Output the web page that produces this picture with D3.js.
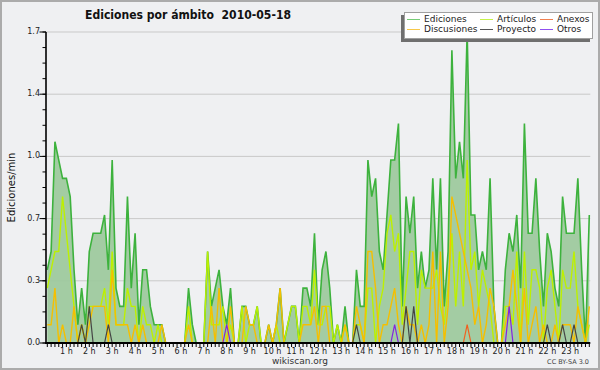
<!DOCTYPE html>
<html>
<head>
<meta charset="utf-8">
<script src="https://cdn.jsdelivr.net/npm/d3@7"></script>
<style>
  body { margin: 0; background: #fff; }
  text { font-family: "DejaVu Sans", sans-serif; }
</style>
</head>
<body>
<div id="chart"></div>
<script>
// edits per minute, one value per 10 minutes (00:10 .. 23:50)
let ediciones = [
  0.4, 0.5, 1.1, 1.0, 0.9, 0.9,
  0.8, 0.4, 0.1, 0.3, 0.1, 0.5,
  0.6, 0.6, 0.6, 0.7, 0.4, 1.0,
  0.3, 0.2, 0.2, 0.8, 0.3, 0.6,
  0.1, 0.4, 0.4, 0.2, 0.1, 0.1,
  0.1, 0, 0, 0, 0, 0,
  0, 0.3, 0.1, 0, 0, 0,
  0.5, 0.2, 0.3, 0.4, 0.2, 0.1,
  0.3, 0, 0, 0.2, 0.2, 0.1,
  0.1, 0.2, 0, 0, 0.1, 0,
  0.1, 0.3, 0, 0.1, 0.2, 0.2,
  0, 0.3, 0.3, 0.2, 0.6, 0.1,
  0.4, 0.5, 0.3, 0, 0.1, 0,
  0.2, 0, 0, 0.4, 0.2, 0.2,
  1.0, 0.8, 0.9, 0.5, 0.4, 0.7,
  1.0, 1.0, 1.2, 0.2, 0.8, 0.6,
  0.8, 0.3, 0.5, 0.3, 0.4, 0.9,
  0.4, 0.9, 0.2, 0.5, 1.6, 0.9,
  1.1, 0.9, 1.7, 0.7, 0.7, 0.4,
  0.5, 0.4, 0.9, 0.2, 0, 0,
  0.4, 0.6, 0.5, 0.7, 0.3, 1.2,
  0.6, 0.6, 0.9, 0.5, 0.2, 0.6,
  0.5, 0.3, 0.2, 0.8, 0.6, 0.6,
  0.6, 0.9, 0.4, 0, 0.7
];

let articulos = [
  0.3, 0.4, 0.5, 0.5, 0.8, 0.6,
  0.4, 0.2, 0, 0.1, 0, 0.2,
  0.2, 0.2, 0.2, 0.3, 0.1, 0.5,
  0.1, 0.1, 0.1, 0.3, 0.2, 0.2,
  0, 0.2, 0.1, 0.1, 0, 0.1,
  0, 0, 0, 0, 0, 0,
  0, 0.2, 0, 0, 0, 0,
  0.5, 0.1, 0.1, 0.1, 0.2, 0,
  0.1, 0, 0, 0.2, 0, 0.1,
  0.1, 0.2, 0, 0, 0, 0,
  0.1, 0, 0, 0.1, 0.2, 0.2,
  0, 0.2, 0.2, 0.1, 0.4, 0.1,
  0.1, 0.2, 0.2, 0, 0.1, 0,
  0.1, 0, 0, 0.1, 0.1, 0,
  0.3, 0.3, 0, 0.2, 0.3, 0.6,
  0.7, 0.5, 0.6, 0.1, 0.3, 0.5,
  0.5, 0.1, 0.4, 0.3, 0.3, 0.3,
  0.4, 0.2, 0.1, 0.3, 0.6, 0.2,
  0.5, 0.2, 1.0, 0.4, 0.5, 0.2,
  0.4, 0.3, 0.2, 0, 0, 0,
  0.2, 0.2, 0.1, 0.5, 0, 0.5,
  0.1, 0.4, 0.4, 0.3, 0, 0.3,
  0.4, 0.2, 0, 0.4, 0.3, 0.3,
  0.5, 0.2, 0.1, 0, 0.1
];

let discusiones = [
  0.1, 0.1, 0.3, 0, 0.1, 0,
  0, 0.2, 0, 0.1, 0, 0.1,
  0.2, 0.2, 0.2, 0.2, 0, 0.4,
  0.1, 0.1, 0.1, 0.1, 0, 0.1,
  0, 0.1, 0, 0, 0, 0,
  0.1, 0, 0, 0, 0, 0,
  0, 0.1, 0, 0, 0, 0,
  0, 0.2, 0, 0.3, 0, 0,
  0.2, 0, 0, 0, 0.2, 0.1,
  0.1, 0, 0, 0, 0.1, 0,
  0.1, 0.3, 0, 0, 0, 0,
  0, 0.1, 0.1, 0.1, 0.2, 0,
  0.2, 0.2, 0, 0, 0, 0,
  0.1, 0, 0, 0.2, 0.1, 0,
  0.5, 0.5, 0.3, 0, 0.1, 0.1,
  0.2, 0.3, 0.1, 0, 0.2, 0.1,
  0.1, 0, 0.1, 0, 0.1, 0.5,
  0, 0.5, 0, 0.2, 0.8, 0.7,
  0.6, 0.5, 0.4, 0.3, 0.1, 0.2,
  0, 0.1, 0.3, 0.2, 0, 0,
  0.1, 0.2, 0.4, 0.2, 0, 0.3,
  0, 0.1, 0.2, 0, 0.1, 0,
  0, 0.1, 0, 0.1, 0.1, 0.1,
  0, 0.2, 0.1, 0, 0.2
];

let proyecto = [
  0, 0, 0, 0, 0, 0,
  0, 0, 0, 0.1, 0, 0.2,
  0, 0, 0, 0, 0.1, 0,
  0, 0, 0, 0, 0, 0,
  0, 0, 0, 0, 0, 0,
  0, 0, 0, 0, 0, 0,
  0, 0, 0, 0, 0, 0,
  0, 0, 0, 0, 0, 0,
  0, 0, 0, 0, 0, 0,
  0, 0, 0, 0, 0, 0,
  0, 0, 0, 0, 0, 0,
  0, 0, 0, 0, 0, 0,
  0, 0, 0, 0, 0, 0,
  0, 0, 0, 0.1, 0, 0,
  0, 0, 0, 0, 0, 0,
  0, 0, 0, 0, 0.2, 0,
  0.2, 0, 0, 0, 0, 0,
  0, 0, 0, 0, 0, 0,
  0, 0, 0, 0, 0, 0,
  0, 0, 0, 0, 0, 0,
  0, 0, 0, 0, 0, 0,
  0, 0, 0, 0, 0, 0.1,
  0, 0, 0, 0.1, 0, 0,
  0.1, 0, 0, 0, 0
];

let anexos = [
  0, 0, 0, 0, 0, 0,
  0, 0, 0, 0, 0, 0,
  0, 0, 0, 0, 0, 0,
  0, 0, 0, 0, 0, 0,
  0, 0, 0, 0, 0, 0,
  0, 0, 0, 0, 0, 0,
  0, 0, 0, 0, 0, 0,
  0, 0, 0, 0, 0, 0,
  0, 0, 0, 0, 0, 0,
  0, 0, 0, 0, 0, 0,
  0, 0, 0, 0, 0, 0,
  0, 0, 0, 0, 0, 0,
  0, 0, 0, 0, 0, 0,
  0, 0, 0, 0, 0, 0,
  0, 0, 0, 0, 0, 0,
  0, 0, 0, 0, 0, 0,
  0, 0, 0, 0, 0, 0,
  0, 0, 0, 0, 0, 0,
  0, 0, 0.1, 0, 0, 0,
  0, 0, 0, 0, 0, 0,
  0, 0, 0, 0, 0, 0,
  0, 0, 0, 0, 0, 0,
  0, 0, 0, 0, 0, 0,
  0, 0, 0, 0, 0
];

let otros = [
  0, 0, 0, 0, 0, 0,
  0, 0, 0, 0, 0, 0,
  0, 0, 0, 0, 0, 0,
  0, 0, 0, 0, 0, 0,
  0, 0, 0, 0, 0, 0,
  0, 0, 0, 0, 0, 0,
  0, 0, 0, 0, 0, 0,
  0, 0, 0, 0, 0, 0.1,
  0, 0, 0, 0, 0, 0,
  0, 0, 0, 0, 0, 0,
  0, 0, 0, 0, 0, 0,
  0, 0, 0, 0, 0, 0,
  0, 0, 0, 0, 0, 0,
  0, 0, 0, 0, 0, 0,
  0, 0, 0, 0, 0, 0,
  0, 0.1, 0, 0, 0, 0,
  0, 0, 0, 0, 0, 0,
  0, 0, 0, 0, 0, 0,
  0, 0, 0, 0, 0, 0,
  0, 0, 0, 0, 0, 0,
  0, 0.2, 0, 0, 0, 0,
  0, 0, 0, 0, 0, 0,
  0, 0, 0, 0, 0, 0,
  0, 0, 0, 0, 0
];

let hourLabels = ["1 h", "2 h", "3 h", "4 h", "5 h", "6 h", "7 h", "8 h", "9 h", "10 h", "11 h", "12 h",
  "13 h", "14 h", "15 h", "16 h", "17 h", "18 h", "19 h", "20 h", "21 h", "22 h", "23 h"];
let yMax = 1.7;

let width = 600;
let height = 370;
let plot = { left: 47.3, right: 589.3, top: 32, bottom: 343 };

let colors = {
  ediciones: "#3db23d",
  edicionesFill: "#9ec99e",
  articulos: "#bdf000",
  discusiones: "#f5bf00",
  proyecto: "#454545",
  anexos: "#f06020",
  otros: "#8424e0"
};

let x = d3.scaleLinear()
  .domain([0, ediciones.length - 1])
  .range([plot.left, plot.right]);

let y = d3.scaleLinear()
  .domain([0, yMax])
  .range([plot.bottom, plot.top]);

const svg = d3.select("#chart").append("svg")
  .attr("width", width)
  .attr("height", height);

// background + frame
svg.append("rect")
  .attr("x", 1).attr("y", 1)
  .attr("width", width - 2).attr("height", height - 2)
  .attr("fill", "#eff0f2")
  .attr("stroke", "#ababab")
  .attr("stroke-width", 2);

// title (two spaces before the date)
svg.append("text")
  .attr("x", 85).attr("y", 18.5)
  .attr("textLength", 206)
  .attr("lengthAdjust", "spacingAndGlyphs")
  .style("font-size", "13px")
  .style("font-weight", "bold")
  .style("white-space", "pre")
  .attr("fill", "#111")
  .text("Ediciones por ámbito  2010-05-18");

// grid
let majorTicks = d3.range(6).map(k => yMax * k / 5);
let minorTicks = d3.range(21).map(k => yMax * k / 20);

svg.append("g")
  .selectAll("line")
  .data(majorTicks.slice(1))
  .join("line")
  .attr("x1", 46).attr("x2", plot.right + 1)
  .attr("y1", d => y(d)).attr("y2", d => y(d))
  .attr("stroke", "#c9c9c9")
  .attr("stroke-width", 1);

// series
let idx = d3.range(ediciones.length);

let area = d3.area()
  .x(i => x(i))
  .y0(y(0))
  .y1(i => y(ediciones[i]));

svg.append("path")
  .datum(idx)
  .attr("d", area)
  .attr("fill", colors.edicionesFill)
  .attr("fill-opacity", 0.95);

let lineOf = values => d3.line().x(i => x(i)).y(i => y(values[i]));

let lines = [
  { values: ediciones, color: colors.ediciones, w: 1.6 },
  { values: articulos, color: colors.articulos, w: 1.4 },
  { values: discusiones, color: colors.discusiones, w: 1.4 },
  { values: proyecto, color: colors.proyecto, w: 1.2 },
  { values: anexos, color: colors.anexos, w: 1.2 },
  { values: otros, color: colors.otros, w: 1.2 }
];

lines.forEach(s => {
  svg.append("path")
    .datum(idx)
    .attr("d", lineOf(s.values))
    .attr("fill", "none")
    .attr("stroke", s.color)
    .attr("stroke-width", s.w)
    .attr("stroke-linejoin", "miter");
});

// y axis
let yAxis = svg.append("g");
yAxis.append("line")
  .attr("x1", 46).attr("x2", 46)
  .attr("y1", plot.top).attr("y2", plot.bottom + 1)
  .attr("stroke", "#000").attr("stroke-width", 1.6);
yAxis.selectAll(".minor")
  .data(minorTicks)
  .join("line")
  .attr("x1", 42.5).attr("x2", 46)
  .attr("y1", d => y(d)).attr("y2", d => y(d))
  .attr("stroke", "#000").attr("stroke-width", 1);
yAxis.selectAll(".major")
  .data(majorTicks)
  .join("line")
  .attr("x1", 39.5).attr("x2", 46)
  .attr("y1", d => y(d)).attr("y2", d => y(d))
  .attr("stroke", "#000").attr("stroke-width", 1);
yAxis.selectAll("text")
  .data(majorTicks)
  .join("text")
  .attr("x", 40).attr("y", d => y(d) - 0.5)
  .attr("text-anchor", "end")
  .attr("dominant-baseline", "middle")
  .style("font-size", "8px")
  .attr("fill", "#222")
  .text(d => d.toFixed(1));

svg.append("text")
  .attr("transform", `translate(15 ${(plot.top + plot.bottom) / 2}) rotate(-90)`)
  .attr("text-anchor", "middle")
  .style("font-size", "10px")
  .attr("fill", "#111")
  .text("Ediciones/min");

// x axis
let xAxis = svg.append("g");
xAxis.selectAll("line.t")
  .data(idx)
  .join("line")
  .attr("x1", i => x(i)).attr("x2", i => x(i))
  .attr("y1", plot.bottom).attr("y2", plot.bottom + 4)
  .attr("stroke", "#000").attr("stroke-width", 1);
xAxis.append("line")
  .attr("x1", 45).attr("x2", plot.right + 1)
  .attr("y1", plot.bottom).attr("y2", plot.bottom)
  .attr("stroke", "#000").attr("stroke-width", 1.8);
xAxis.selectAll("text")
  .data(hourLabels)
  .join("text")
  .attr("x", (d, h) => x(6 * (h + 1) - 1))
  .attr("y", 353.5)
  .attr("text-anchor", "middle")
  .style("font-size", "8px")
  .attr("fill", "#222")
  .text(d => d);

svg.append("text")
  .attr("x", 300).attr("y", 364)
  .attr("text-anchor", "middle")
  .style("font-size", "9px")
  .attr("fill", "#333")
  .text("wikiscan.org");

svg.append("text")
  .attr("x", 589).attr("y", 364)
  .attr("text-anchor", "end")
  .style("font-size", "6.5px")
  .attr("fill", "#444")
  .text("CC BY-SA 3.0");

// legend
let legendItems = [
  { name: "Ediciones", color: "#77cc77", col: 0, row: 0 },
  { name: "Discusiones", color: "#f7c84a", col: 0, row: 1 },
  { name: "Artículos", color: "#c6f24a", col: 1, row: 0 },
  { name: "Proyecto", color: "#555555", col: 1, row: 1 },
  { name: "Anexos", color: "#f08050", col: 2, row: 0 },
  { name: "Otros", color: "#9050f0", col: 2, row: 1 }
];
let colX = [407, 480, 540];
let rowY = [19.5, 29.5];

let legend = svg.append("g");
legend.append("rect")
  .attr("x", 401).attr("y", 15)
  .attr("width", 189).attr("height", 27)
  .attr("fill", "#6f6f6f");
legend.append("rect")
  .attr("x", 404.5).attr("y", 12.5)
  .attr("width", 188).attr("height", 26)
  .attr("fill", "#fff")
  .attr("stroke", "#a0a0a0");

let li = legend.selectAll("g.item")
  .data(legendItems)
  .join("g");
li.append("line")
  .attr("x1", d => colX[d.col]).attr("x2", d => colX[d.col] + 13)
  .attr("y1", d => rowY[d.row]).attr("y2", d => rowY[d.row])
  .attr("stroke", d => d.color).attr("stroke-width", 1);
li.append("text")
  .attr("x", d => colX[d.col] + 17)
  .attr("y", d => rowY[d.row])
  .attr("dominant-baseline", "middle")
  .style("font-size", "9px")
  .attr("fill", "#222")
  .text(d => d.name);
</script>
</body>
</html>
